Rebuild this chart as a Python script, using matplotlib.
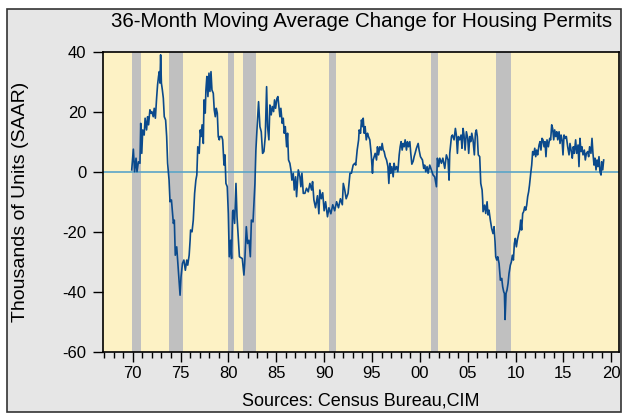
import matplotlib
matplotlib.use("Agg")
import matplotlib.pyplot as plt
from matplotlib.patches import Rectangle
from matplotlib.ticker import MultipleLocator

plt.rcParams['font.family'] = ['Liberation Sans', 'DejaVu Sans']
plt.rcParams['axes.unicode_minus'] = False

# values (decimal year, thousands of units)
years = [
    1969.9, 1970.07, 1970.2, 1970.35, 1970.45, 1970.6, 1970.76, 1970.84, 1970.95, 1971.05,
    1971.2, 1971.3, 1971.45, 1971.56, 1971.66, 1971.8, 1971.9, 1972.0, 1972.15, 1972.25,
    1972.37, 1972.5, 1972.6, 1972.7, 1972.78, 1972.85, 1972.92, 1973.0, 1973.1, 1973.2,
    1973.3, 1973.44, 1973.55, 1973.65, 1973.8, 1973.9, 1974.05, 1974.25, 1974.35, 1974.45,
    1974.6, 1974.77, 1974.95, 1975.05, 1975.2, 1975.35, 1975.5, 1975.65, 1975.75, 1975.9,
    1976.0, 1976.05, 1976.2, 1976.33, 1976.47, 1976.6, 1976.7, 1976.8, 1976.95, 1977.06,
    1977.15, 1977.25, 1977.38, 1977.45, 1977.58, 1977.65, 1977.75, 1977.86, 1977.97, 1978.07,
    1978.18, 1978.28, 1978.42, 1978.52, 1978.63, 1978.73, 1978.84, 1978.94, 1979.05, 1979.1,
    1979.3, 1979.4, 1979.54, 1979.64, 1979.74, 1979.88, 1979.99, 1980.09, 1980.23, 1980.33,
    1980.44, 1980.51, 1980.65, 1980.79, 1980.9, 1981.15, 1981.45, 1981.62, 1981.7, 1981.87,
    1982.0, 1982.15, 1982.29, 1982.4, 1982.57, 1982.72, 1982.77, 1982.87, 1983.0, 1983.15,
    1983.29, 1983.43, 1983.57, 1983.71, 1983.85, 1983.99, 1984.09, 1984.23, 1984.33, 1984.47,
    1984.58, 1984.72, 1984.82, 1984.93, 1985.07, 1985.17, 1985.27, 1985.38, 1985.48, 1985.62,
    1985.73, 1985.83, 1985.94, 1986.08, 1986.18, 1986.28, 1986.42, 1986.53, 1986.63, 1986.77,
    1986.88, 1987.02, 1987.12, 1987.3, 1987.47, 1987.57, 1987.68, 1987.82, 1987.99, 1988.16,
    1988.34, 1988.51, 1988.69, 1988.79, 1988.93, 1989.1, 1989.3, 1989.45, 1989.55, 1989.7,
    1989.85, 1990.0, 1990.15, 1990.35, 1990.5, 1990.7, 1990.9, 1991.1, 1991.3, 1991.5,
    1991.7, 1991.9, 1992.0, 1992.15, 1992.3, 1992.5, 1992.7, 1992.85, 1993.03, 1993.2,
    1993.3, 1993.45, 1993.6, 1993.66, 1993.8, 1993.9, 1994.0, 1994.08, 1994.18, 1994.28,
    1994.4, 1994.53, 1994.63, 1994.77, 1994.91, 1995.05, 1995.12, 1995.22, 1995.33, 1995.47,
    1995.57, 1995.68, 1995.82, 1995.96, 1996.06, 1996.17, 1996.27, 1996.38, 1996.52, 1996.66,
    1996.76, 1996.86, 1996.97, 1997.07, 1997.21, 1997.31, 1997.42, 1997.56, 1997.7, 1997.84,
    1997.94, 1998.04, 1998.15, 1998.25, 1998.36, 1998.46, 1998.6, 1998.7, 1998.81, 1998.95,
    1999.05, 1999.16, 1999.3, 1999.4, 1999.5, 1999.64, 1999.82, 1999.92, 2000.06, 2000.16,
    2000.27, 2000.4, 2000.5, 2000.62, 2000.75, 2000.86, 2001.03, 2001.2, 2001.38, 2001.55,
    2001.73, 2001.83, 2001.97, 2002.08, 2002.25, 2002.4, 2002.6, 2002.77, 2002.94, 2003.05,
    2003.12, 2003.3, 2003.4, 2003.57, 2003.71, 2003.81, 2003.92, 2004.02, 2004.16, 2004.3,
    2004.4, 2004.51, 2004.61, 2004.72, 2004.86, 2005.0, 2005.1, 2005.21, 2005.31, 2005.42,
    2005.55, 2005.69, 2005.8, 2005.9, 2006.0, 2006.1, 2006.25, 2006.36, 2006.5, 2006.56,
    2006.6, 2006.77, 2006.88, 2007.02, 2007.12, 2007.22, 2007.36, 2007.5, 2007.64, 2007.75,
    2007.85, 2007.92, 2008.03, 2008.13, 2008.27, 2008.41, 2008.55, 2008.65, 2008.76, 2008.83,
    2008.9, 2009.0, 2009.1, 2009.21, 2009.31, 2009.45, 2009.56, 2009.66, 2009.77, 2009.87,
    2009.97, 2010.08, 2010.18, 2010.32, 2010.43, 2010.53, 2010.63, 2010.74, 2010.84, 2010.95,
    2011.05, 2011.16, 2011.26, 2011.36, 2011.45, 2011.58, 2011.68, 2011.78, 2011.89, 2012.0,
    2012.1, 2012.2, 2012.3, 2012.45, 2012.55, 2012.65, 2012.76, 2012.86, 2012.97, 2013.07,
    2013.17, 2013.28, 2013.42, 2013.56, 2013.66, 2013.77, 2013.87, 2013.98, 2014.08, 2014.19,
    2014.3, 2014.4, 2014.54, 2014.64, 2014.75, 2014.85, 2014.95, 2015.06, 2015.2, 2015.3,
    2015.44, 2015.58, 2015.68, 2015.82, 2015.92, 2016.03, 2016.13, 2016.27, 2016.38, 2016.52,
    2016.62, 2016.72, 2016.83, 2016.93, 2017.04, 2017.18, 2017.28, 2017.39, 2017.53, 2017.63,
    2017.73, 2017.87, 2017.98, 2018.08, 2018.19, 2018.29, 2018.4, 2018.5, 2018.6, 2018.71,
    2018.81, 2018.92, 2018.99, 2019.1, 2019.2,
]
change = [
    0.6, 7.5, 0, 4.5, 0, 3.3, 2.8, 16.1, 6.1, 13.9,
    12.2, 17.8, 13.9, 18.3, 15.6, 20.6, 19.5, 20, 18.3, 21.1,
    17.8, 24.5, 28.9, 31.7, 33.3, 29.5, 38.9, 29.5, 27.2, 24.5,
    18.3, 17.2, 11.7, 2.8, -2.8, -10, -9.4, -17.2, -16.1, -27.8,
    -25, -32.8, -41.1, -35, -30.5, -29.4, -32.8, -29.4, -31.1, -27.8,
    -22.8, -19.4, -20, -16.1, -7.2, -2.8, -1.1, 8.3, 6.1, 13.9,
    11.7, 15.6, 9.4, 23.9, 19.5, 27.2, 31.7, 25, 32.8, 26.7,
    33.3, 27.2, 26.1, 20.6, 18.3, 21.1, 19.5, 11.7, 10.6, 11.7,
    11.7, 10.6, 2.2, 5.6, -3.9, -5, -13.9, -28.3, -22.8, -28.9,
    -13.3, -12.8, -17.2, -3.9, -15, -28.3, -28.9, -34.4, -30.5, -18.3,
    -23.9, -22.8, -28.3, -16.1, -16.7, -7.2, -3.9, 7.2, 15, 23.3,
    15, 13.3, 6.1, 6.7, 11.7, 28.3, 15, 10.6, 22.2, 18.9,
    21.7, 20, 23.9, 21.1, 24.4, 25, 21.7, 18.3, 21.1, 16.1,
    17.8, 12.8, 15, 8.3, 12.8, 3.9, 2.8, 0.6, -2.8, -0.5,
    -6.1, -1.7, -8.3, 0.6, -1.7, -5, -0.5, -7.2, -7.2, -5.5,
    -6.7, -3.9, -6.1, -3.3, -9.4, -12, -8, -14, -6.1, -9,
    -7, -13, -10, -15, -12, -14, -11, -13, -10, -12,
    -9, -11, -3.9, -6, -9, -7.2, -0.5, -0.5, 2.2, 2.8,
    2.2, 7.2, 10.6, 13.9, 12.8, 17.2, 15, 17.8, 12.8, 15,
    10.6, 12.8, 11.7, 10.6, 6.1, -0.5, 3.9, 5, 6.1, 3.9,
    8.3, 5.6, 8.3, 7.2, 9.4, 7.2, 6.7, 5, 3.9, 1.7,
    -3.9, 2.8, -0.5, 1.7, -1.7, 2.8, 0.6, 1.7, 0, 5.6,
    8.3, 10, 7.2, 9.4, 8.3, 10.6, 7.2, 10, 8.3, 10,
    6.1, 2.5, 3.5, 5, 6.1, 7.8, 9.4, 7.2, 5, 4.5,
    3.9, 1.1, 2.2, 0, 1.7, -0.5, 2.2, 0.6, -1.1, -1.7,
    -5, 4.5, 1.7, 4.5, 2.8, 4.5, 1.1, 5.6, 3.9, -2.8,
    6.1, 11.7, 12.2, 10.6, 14.4, 12.2, 6.1, 11.7, 10.6, 12.2,
    7.8, 14.4, 12.2, 7.2, 13.3, 11.1, 6.1, 11.7, 10, 12.8,
    10.6, 5.6, 12.8, 13.9, 11.7, 5.6, 5, -3.9, -6.1, -9.4,
    -13.3, -11.1, -13.9, -10, -14.4, -12.8, -16.1, -18.9, -20.6, -18.3,
    -23.3, -28.3, -29.4, -28.3, -30.5, -36.1, -35.5, -38.3, -40, -40.5,
    -49.2, -40.5, -39.4, -37.2, -33.9, -31.1, -30, -27.8, -29.4, -23.9,
    -22.2, -25, -22.8, -20.6, -19.4, -16.1, -19.4, -13.9, -13.3, -11.7,
    -12.8, -11.1, -8.3, -6.7, -4.5, -0.5, 2.2, 6.7, 5.6, 7.8,
    5, 7.2, 5.6, 8.9, 10, 7.2, 11.1, 10.6, 8.3, 10,
    5, 10.6, 8.3, 11.1, 10.6, 15.6, 14.4, 10.6, 13.9, 11.7,
    13.3, 10.6, 13.3, 9.4, 12.2, 10.6, 5.6, 12.2, 11.1, 11.7,
    8.3, 5.6, 9.4, 6.7, 4.5, 8.3, 6.1, 10.6, 6.1, 8.9,
    1.7, 11.1, 6.7, 8.3, 5.6, 7.2, 3.9, 6.1, 6.7, 5,
    8.3, 6.1, 11.1, 6.1, 2.2, 4.5, 0.6, 3.9, 1.7, 5,
    0, -1.1, 3.3, 0.6, 3.9,
]

# recessions (start, end)
rec_start = [1969.92, 1973.83, 1980.0, 1981.5, 1990.5, 2001.17, 2007.92]
rec_end = [1970.92, 1975.25, 1980.58, 1982.92, 1991.25, 2001.92, 2009.5]

tick_years = list(range(1970, 2021, 5))
tick_labels = ["70", "75", "80", "85", "90", "95", "00", "05", "10", "15", "20"]

W, H = 623, 413
fig = plt.figure(figsize=(W / 100, H / 100), dpi=100)
fig.patch.set_facecolor("white")
# grey panel with dark frame behind everything
panel = Rectangle((7 / W, 1.5 / H), 614 / W, 402.5 / H, transform=fig.transFigure,
                  facecolor="#E6E6E6", edgecolor="#333333", linewidth=1.2, zorder=-10)
fig.patches.append(panel)

ax = fig.add_axes([103 / W, (H - 352) / H, 516 / W, 300.5 / H])
ax.set_zorder(1)
ax.set_facecolor("#FDF2C5")

for s, e in zip(rec_start, rec_end):
    ax.axvspan(s, e, color="#C0C0C0", lw=0, zorder=1)

ax.axhline(0, color="#5AA5C8", lw=1.2, zorder=2)
ax.plot(years, change, color="#0B4A8C", lw=1.2, zorder=3)

ax.set_xlim(1966.9, 2020.8)
ax.set_ylim(-60, 40)
ax.set_yticks(range(-60, 41, 20))
ax.set_xticks(tick_years)
ax.set_xticklabels(tick_labels)
ax.xaxis.set_minor_locator(MultipleLocator(1))
ax.tick_params(axis="x", which="major", direction="out", length=7, width=1, labelsize=12, pad=3)
ax.tick_params(axis="x", which="minor", direction="out", length=4, width=1)
ax.tick_params(axis="y", which="major", direction="out", length=7, width=1, labelsize=12, pad=5)
for sp in ax.spines.values():
    sp.set_linewidth(1.2)
    sp.set_color("black")

ax.set_ylabel("Thousands of Units (SAAR)", fontsize=14)
ax.yaxis.set_label_coords(-0.143, 0.5)

fig.text(612 / W, 1 - 27 / H, "36-Month Moving Average Change for Housing Permits",
         ha="right", va="baseline", fontsize=14.8)
fig.text(361 / W, 1 - 406 / H, "Sources: Census Bureau,CIM",
         ha="center", va="baseline", fontsize=13)

fig.savefig("out.png", dpi=100, facecolor=fig.get_facecolor())
